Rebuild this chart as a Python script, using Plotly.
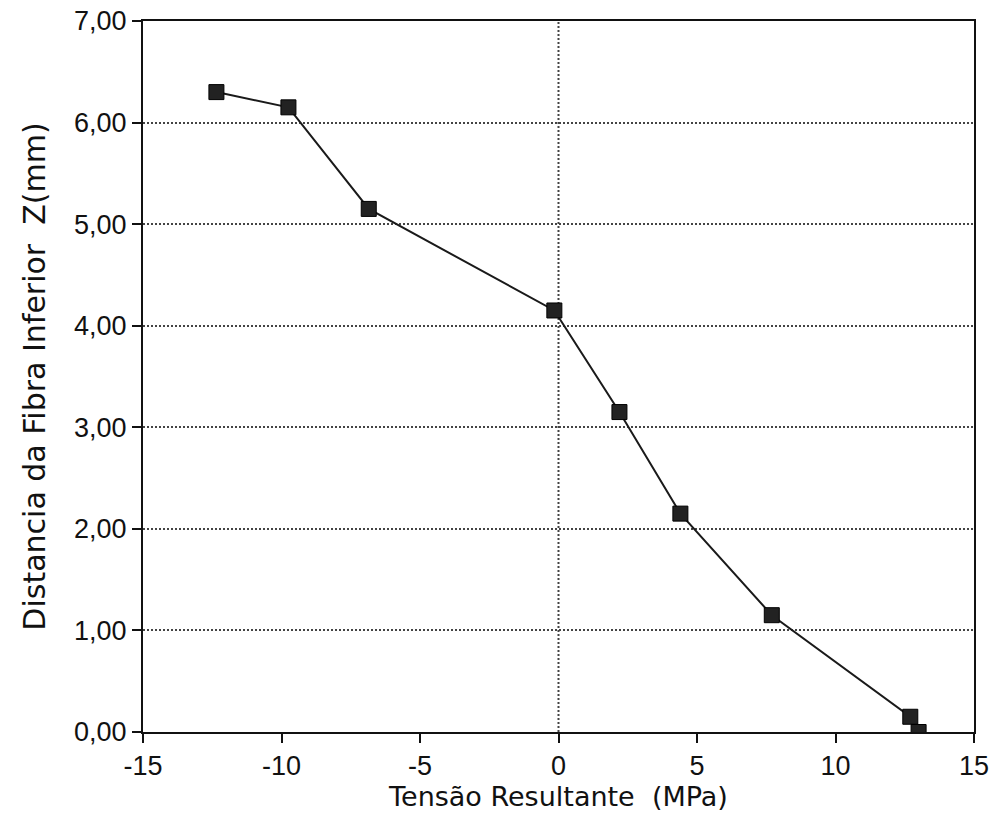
import plotly.graph_objects as go

tensao = [-12.35, -9.75, -6.85, -0.15, 2.2, 4.4, 7.7, 12.7, 13.0]
z_mm = [6.30, 6.15, 5.15, 4.15, 3.15, 2.15, 1.15, 0.15, 0.00]

x_ticks = [-15, -10, -5, 0, 5, 10, 15]
x_labels = ["-15", "-10", "-5", "0", "5", "10", "15"]
y_ticks = [0, 1, 2, 3, 4, 5, 6, 7]
y_labels = ["0,00", "1,00", "2,00", "3,00", "4,00", "5,00", "6,00", "7,00"]

fig = go.Figure()
fig.add_trace(go.Scatter(
    x=tensao, y=z_mm, mode="lines+markers",
    line=dict(color="#1a1a1a", width=2),
    marker=dict(symbol="square", size=15, color="#222222",
                line=dict(color="#000000", width=1)),
    showlegend=False,
))

fig.update_layout(
    width=1005, height=819,
    margin=dict(l=143, r=31, t=21, b=87),
    paper_bgcolor="white", plot_bgcolor="white",
    font=dict(family="Liberation Sans, Arial, sans-serif", color="#111111"),
)
fig.update_xaxes(
    range=[-15, 15], tickvals=x_ticks, ticktext=x_labels,
    showgrid=False, zeroline=False, automargin="bottom",
    showline=True, linecolor="#111111", linewidth=2, mirror=True,
    ticks="outside", ticklen=9, tickcolor="#111111", tickwidth=2,
    tickfont=dict(size=27), ticklabeloverflow="allow",
    title=dict(text="Tensão Resultante  (MPa)",
               font=dict(size=27, family="DejaVu Sans, sans-serif"), standoff=6),
)
fig.update_yaxes(
    range=[0, 7], tickvals=y_ticks, ticktext=y_labels,
    showgrid=True, gridcolor="#444444", griddash="2px,2px", gridwidth=2,
    zeroline=False, automargin="left",
    showline=True, linecolor="#111111", linewidth=2, mirror=True,
    ticks="outside", ticklen=9, tickcolor="#111111", tickwidth=2,
    tickfont=dict(size=27), ticklabeloverflow="allow",
    title=dict(text="Distancia da Fibra Inferior  Z(mm)",
               font=dict(size=30, family="DejaVu Sans, sans-serif"),
               standoff=20),
)
fig.add_vline(x=0, line=dict(color="#444444", width=2, dash="2px,2px"), layer="below")

fig.write_html(
    "out.html",
    config={"displayModeBar": False},
    post_script="document.body.style.margin='0';document.documentElement.style.overflow='hidden';",
)
